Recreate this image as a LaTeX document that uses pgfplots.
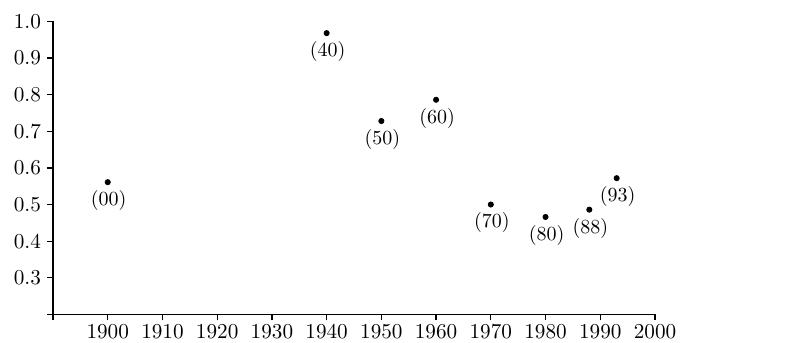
\documentclass[border=0pt]{standalone}
\usepackage{pgfplots}
\usepackage{pgfplotstable}
\pgfplotsset{compat=1.18}
\pgfplotstableread{
year val lab
1900 0.561 (00)
1940 0.968 (40)
1950 0.728 (50)
1960 0.786 (60)
1970 0.500 (70)
1980 0.466 (80)
1988 0.486 (88)
1993 0.572 (93)
}\datatable
\begin{document}
\begin{tikzpicture}
\begin{axis}[
  scale only axis,
  width=301pt, height=146.5pt,
  xmin=1890, xmax=2000, ymin=0.2, ymax=1.0,
  axis lines*=left,
  axis line style={line width=0.8pt},
  xtick={1890,1900,...,2000},
  xticklabels={,1900,1910,1920,1930,1940,1950,1960,1970,1980,1990,2000},
  ytick={0.2,0.3,...,1.0},
  yticklabels={,0.3,0.4,0.5,0.6,0.7,0.8,0.9,1.0},
  tick align=outside,
  major tick length=3pt,
  tick style={black, line width=0.6pt},
  ticklabel style={font=\fontsize{10.6}{12}\selectfont},
  xticklabel style={yshift=1.5pt},
  yticklabel style={xshift=0.5pt},
  clip=false,
  every node near coord/.style={anchor=north, inner sep=0pt, yshift=-4pt, xshift=0.5pt, black, font=\fontsize{10}{12}\selectfont},
]
\addplot[only marks, mark=*, mark size=1.3pt, black,
  nodes near coords, point meta=explicit symbolic]
  table[x=year, y=val, meta=lab] {\datatable};
\end{axis}
\pgfresetboundingbox
\path (current axis.origin) ++(-26.5pt,-14.3pt) rectangle ++(402pt,171.5pt);
\end{tikzpicture}
\end{document}
